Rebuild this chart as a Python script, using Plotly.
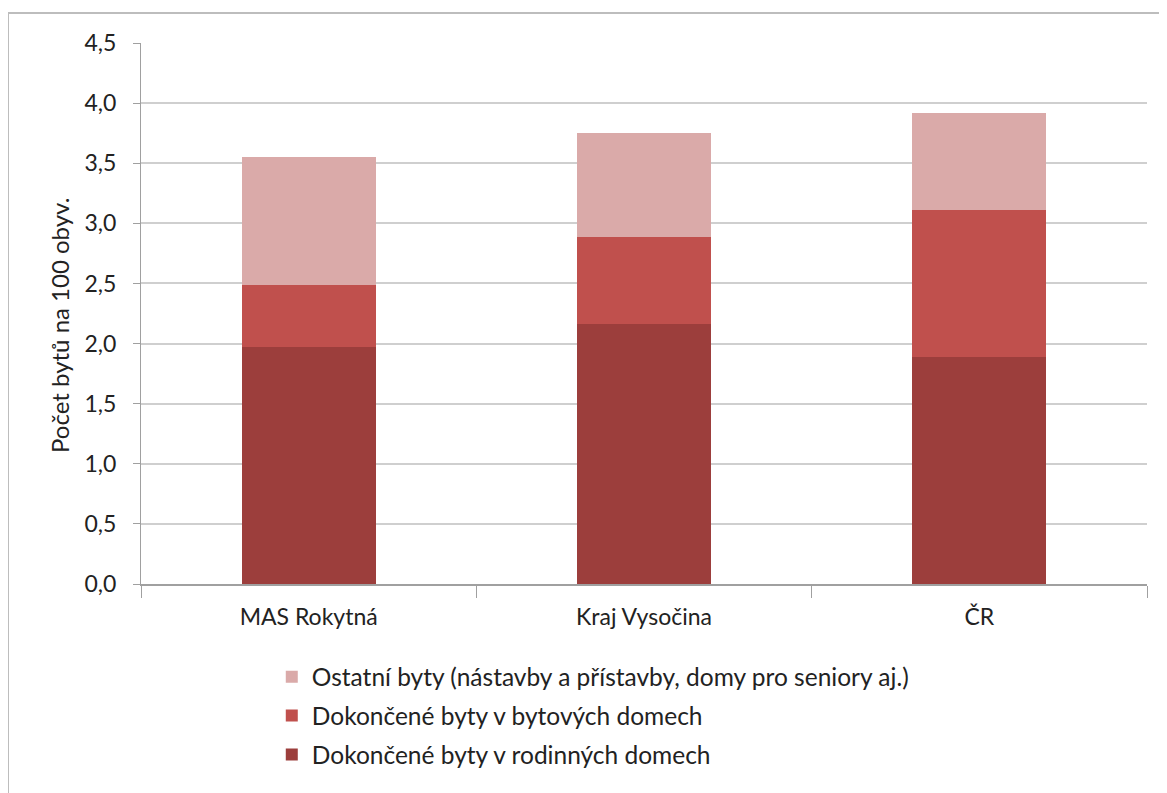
import plotly.graph_objects as go

categories = ["MAS Rokytná", "Kraj Vysočina", "ČR"]
rodinne = [1.97, 2.16, 1.89]
bytove = [0.52, 0.73, 1.22]
ostatni = [1.06, 0.86, 0.81]

series_names = [
    "Dokončené byty v rodinných domech",
    "Dokončené byty v bytových domech",
    "Ostatní byty (nástavby a přístavby, domy pro seniory aj.)",
]
colors = ["#9C3E3C", "#C0504D", "#DAAAA9"]
legend_ranks = [3, 2, 1]
y_ticks = [0, 0.5, 1.0, 1.5, 2.0, 2.5, 3.0, 3.5, 4.0, 4.5]
y_title = "Počet bytů na 100 obyv."

FONT = "Lato"

fig = go.Figure()
for name, vals, col, rank in zip(series_names, [rodinne, bytove, ostatni], colors, legend_ranks):
    fig.add_trace(go.Bar(
        x=categories, y=vals, name=name, marker_color=col,
        marker_line_width=0, legendgroup=name, legendrank=rank,
    ))

fig.update_layout(
    barmode="stack",
    bargap=0.6,
    width=1159, height=785,
    margin=dict(l=133, r=20, t=35, b=209, autoexpand=False),
    paper_bgcolor="white", plot_bgcolor="white",
    separators=", ",
    font=dict(family=FONT, size=22, color="#222222"),
    showlegend=True,
    legend=dict(
        x=0.130, y=-0.13, xanchor="left", yanchor="top",
        traceorder="grouped", tracegroupgap=4,
        font=dict(family=FONT, size=24.5, color="#222222"),
        itemclick=False,
    ),
    yaxis=dict(
        range=[0, 4.5], tickvals=y_ticks, tickformat=".1f",
        tickfont=dict(size=23),
        showgrid=True, gridcolor="#CFCFCF", gridwidth=2,
        showline=True, linecolor="#A0A0A0", linewidth=1,
        ticks="outside", ticklen=7, tickcolor="#A0A0A0",
        ticklabelstandoff=12,
        zeroline=False,
    ),
    xaxis=dict(
        showline=True, linecolor="#A0A0A0", linewidth=1.5,
        ticks="outside", ticklen=12, tickcolor="#A0A0A0",
        tickson="boundaries", tickfont=dict(size=23),
        ticklabelstandoff=12,
    ),
    annotations=[
        dict(text=y_title, xref="paper", yref="paper", x=-0.0805, y=0.477,
             xanchor="center", yanchor="middle", textangle=-90, showarrow=False,
             font=dict(family=FONT, size=24, color="#222222")),
    ],
    shapes=[
        dict(type="line", xref="paper", yref="paper", x0=-0.1322, x1=-0.1322, y0=1.0555, y1=-0.4,
             line=dict(color="#BDBDBD", width=2)),
        dict(type="line", xref="paper", yref="paper", x0=-0.1322, x1=1.05, y0=1.0555, y1=1.0555,
             line=dict(color="#BDBDBD", width=2)),
    ],
)

fig.write_html("out.html")
